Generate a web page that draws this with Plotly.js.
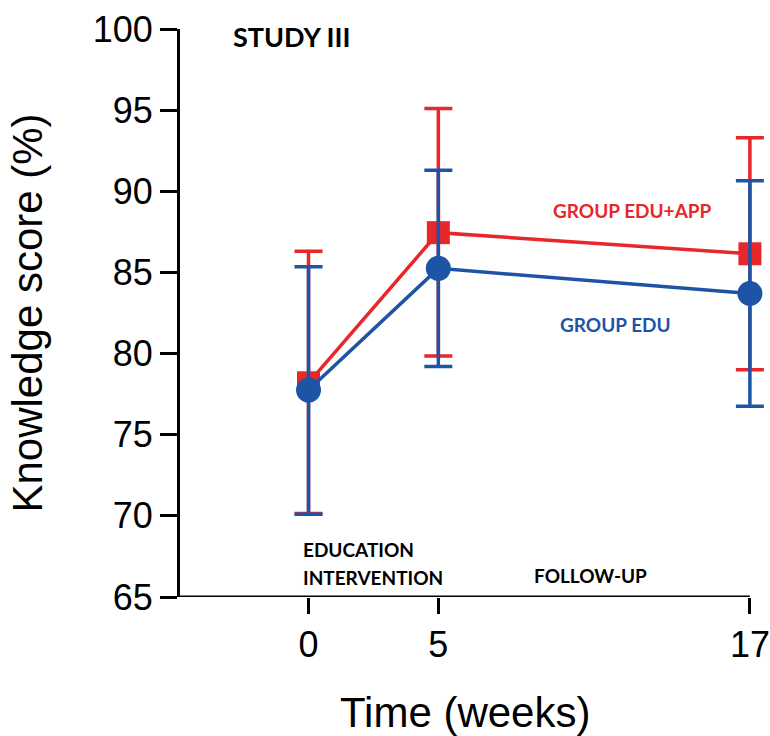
<!DOCTYPE html>
<html>
<head>
<meta charset="utf-8">
<script src="https://cdn.plot.ly/plotly-3.0.1.min.js"></script>
<style>html,body{margin:0;padding:0;background:#fff;}#chart{width:770px;height:736px;}</style>
</head>
<body>
<div id="chart"></div>
<script>
// Data
const weeks = [0, 5, 17];
const tickLabels = ['0', '5', '17'];
const eduAppMean = [78.2, 87.45, 86.15];
const eduAppUpper = [86.3, 95.1, 93.3];
const eduAppLower = [70.15, 79.85, 79.0];
const eduMean = [77.75, 85.25, 83.7];
const eduUpper = [85.35, 91.3, 90.65];
const eduLower = [70.1, 79.2, 76.75];

const red = '#E8272A';
const blue = '#1E54A6';

function plus(u, m) { return u.map((v, i) => v - m[i]); }
function minus(l, m) { return l.map((v, i) => m[i] - v); }

const xRange = [-4.95, 17.62];
const xAxisEnd = weeks[weeks.length - 1];

const traces = [
  {
    x: weeks, y: eduAppMean, type: 'scatter', mode: 'lines+markers', name: 'GROUP EDU+APP',
    line: {color: red, width: 3.5},
    marker: {symbol: 'square', size: 23, color: red},
    error_y: {type: 'data', symmetric: false, array: plus(eduAppUpper, eduAppMean), arrayminus: minus(eduAppLower, eduAppMean), color: red, thickness: 3.5, width: 14},
    cliponaxis: false
  },
  {
    x: weeks, y: eduMean, type: 'scatter', mode: 'lines+markers', name: 'GROUP EDU',
    line: {color: blue, width: 3.5},
    marker: {symbol: 'circle', size: 25, color: blue},
    error_y: {type: 'data', symmetric: false, array: plus(eduUpper, eduMean), arrayminus: minus(eduLower, eduMean), color: blue, thickness: 3.5, width: 14},
    cliponaxis: false
  }
];

const annFont = 'Lato, "Open Sans", sans-serif';
const layout = {
  width: 770, height: 736,
  margin: {l: 180, r: 4, t: 29, b: 139},
  paper_bgcolor: '#fff', plot_bgcolor: '#fff',
  showlegend: false,
  font: {family: '"Liberation Sans", Arial, sans-serif', color: '#000'},
  xaxis: {
    range: xRange, tickvals: weeks, ticktext: tickLabels,
    showgrid: false, zeroline: false, showline: false,
    ticks: 'outside', ticklen: 16, tickwidth: 3, tickcolor: '#000',
    tickfont: {size: 36, color: '#000'}, ticklabeloverflow: 'allow',
    title: {text: '', font: {size: 42, color: '#000'}}
  },
  yaxis: {
    range: [65, 100], tickvals: [65, 70, 75, 80, 85, 90, 95, 100],
    showgrid: false, zeroline: false, showline: true, linecolor: '#000', linewidth: 3,
    ticks: 'outside', ticklen: 17, tickwidth: 3, tickcolor: '#000',
    tickfont: {size: 36, color: '#000'},
    title: {text: 'Knowledge score (%)', font: {size: 42, color: '#000'}, standoff: 38}
  },
  shapes: [
    {type: 'line', xref: 'x', yref: 'y', x0: xRange[0], x1: xAxisEnd, y0: 65, y1: 65, line: {color: '#000', width: 3}, layer: 'above'}
  ],
  annotations: [
    {text: 'Time (weeks)', xref: 'paper', yref: 'paper', x: 0.0, xshift: 285, y: 0, yshift: -115, xanchor: 'center', yanchor: 'middle', showarrow: false, font: {size: 42, color: '#000'}},
    {text: '<b>STUDY III</b>', xref: 'paper', yref: 'paper', x: 0.0, xshift: 111, y: 0.986, xanchor: 'center', yanchor: 'middle', showarrow: false, font: {family: annFont, size: 27, color: '#000'}},
    {text: '<b>GROUP EDU+APP</b>', xref: 'paper', yref: 'paper', x: 0.0, xshift: 452, y: 0.681, xanchor: 'center', yanchor: 'middle', showarrow: false, font: {family: annFont, size: 19, color: red}},
    {text: '<b>GROUP EDU</b>', xref: 'paper', yref: 'paper', x: 0.0, xshift: 435, y: 0.479, xanchor: 'center', yanchor: 'middle', showarrow: false, font: {family: annFont, size: 19, color: blue}},
    {text: '<b>EDUCATION</b>', xref: 'paper', yref: 'paper', x: 0.0, xshift: 121, y: 0.0845, xanchor: 'left', yanchor: 'middle', showarrow: false, font: {family: annFont, size: 19, color: '#000'}},
    {text: '<b>INTERVENTION</b>', xref: 'paper', yref: 'paper', x: 0.0, xshift: 121, y: 0.035, xanchor: 'left', yanchor: 'middle', showarrow: false, font: {family: annFont, size: 19, color: '#000'}},
    {text: '<b>FOLLOW-UP</b>', xref: 'paper', yref: 'paper', x: 0.0, xshift: 410, y: 0.0387, xanchor: 'center', yanchor: 'middle', showarrow: false, font: {family: annFont, size: 19, color: '#000'}}
  ]
};

Plotly.newPlot('chart', traces, layout, {displayModeBar: false, staticPlot: true});
</script>
</body>
</html>
